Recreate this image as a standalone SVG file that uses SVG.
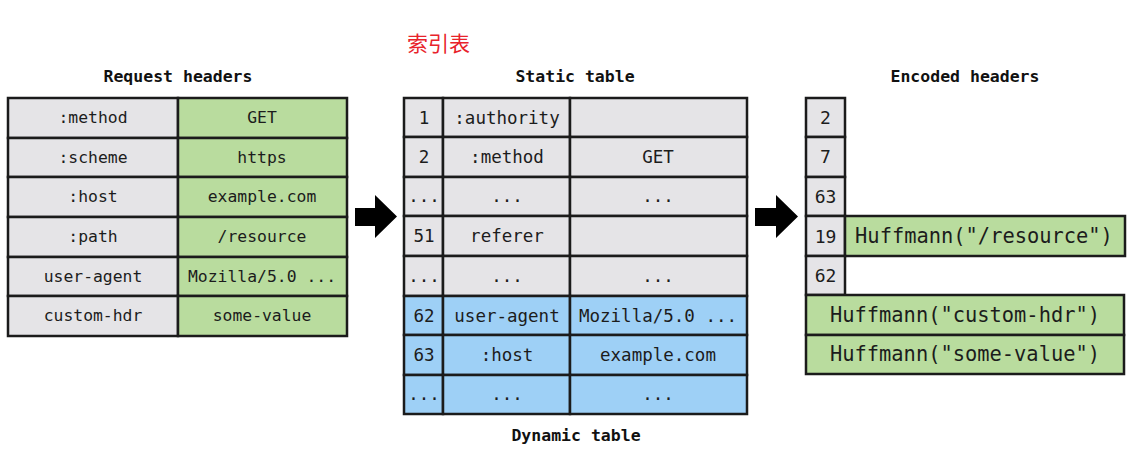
<svg xmlns="http://www.w3.org/2000/svg" width="1134" height="455" viewBox="0 0 1134 455">
<style>
.g{fill:#e5e4e7;stroke:#1b1b1b;stroke-width:2.5}
.n{fill:#b9dc9e;stroke:#1b1b1b;stroke-width:2.5}
.b{fill:#9ed0f6;stroke:#1b1b1b;stroke-width:2.5}
text{font-family:"DejaVu Sans Mono","Liberation Mono",monospace;fill:#1c1c1c;text-anchor:middle}
.t{font-weight:bold;font-size:16.5px;fill:#111}
.l{font-size:16.4px}
.m{font-size:17.5px}
.r{font-size:18px}
.h{font-size:20.4px}
.cn{font-family:"Noto Sans CJK SC",sans-serif;font-size:21px;fill:#e8232b;text-anchor:start}
.ar{fill:#000}
</style>
<text class="cn" x="407" y="51">索引表</text>
<text class="t" x="178" y="82">Request headers</text>
<text class="t" x="575" y="82">Static table</text>
<text class="t" x="965" y="82">Encoded headers</text>
<text class="t" x="576" y="441">Dynamic table</text>

<g id="request-headers">
<rect class="g" x="8" y="98" width="170" height="40"/><rect class="n" x="178" y="98" width="169" height="40"/>
<rect class="g" x="8" y="138" width="170" height="39"/><rect class="n" x="178" y="138" width="169" height="39"/>
<rect class="g" x="8" y="177" width="170" height="40"/><rect class="n" x="178" y="177" width="169" height="40"/>
<rect class="g" x="8" y="217" width="170" height="40"/><rect class="n" x="178" y="217" width="169" height="40"/>
<rect class="g" x="8" y="257" width="170" height="39"/><rect class="n" x="178" y="257" width="169" height="39"/>
<rect class="g" x="8" y="296" width="170" height="40"/><rect class="n" x="178" y="296" width="169" height="40"/>
<text class="l" x="93" y="123">:method</text><text class="l" x="262" y="123">GET</text>
<text class="l" x="93" y="163">:scheme</text><text class="l" x="262" y="163">https</text>
<text class="l" x="93" y="202">:host</text><text class="l" x="262" y="202">example.com</text>
<text class="l" x="93" y="242">:path</text><text class="l" x="262" y="242">/resource</text>
<text class="l" x="93" y="282">user-agent</text><text class="l" x="262" y="282">Mozilla/5.0 ...</text>
<text class="l" x="93" y="321">custom-hdr</text><text class="l" x="262" y="321">some-value</text>
</g>

<g id="static-table">
<rect class="g" x="404" y="98" width="39" height="39"/><rect class="g" x="443" y="98" width="127" height="39"/><rect class="g" x="570" y="98" width="177" height="39"/>
<rect class="g" x="404" y="137" width="39" height="40"/><rect class="g" x="443" y="137" width="127" height="40"/><rect class="g" x="570" y="137" width="177" height="40"/>
<rect class="g" x="404" y="177" width="39" height="39"/><rect class="g" x="443" y="177" width="127" height="39"/><rect class="g" x="570" y="177" width="177" height="39"/>
<rect class="g" x="404" y="216" width="39" height="40"/><rect class="g" x="443" y="216" width="127" height="40"/><rect class="g" x="570" y="216" width="177" height="40"/>
<rect class="g" x="404" y="256" width="39" height="40"/><rect class="g" x="443" y="256" width="127" height="40"/><rect class="g" x="570" y="256" width="177" height="40"/>
<text class="m" x="424" y="124">1</text><text class="m" x="507" y="124">:authority</text>
<text class="m" x="424" y="163">2</text><text class="m" x="507" y="163">:method</text><text class="m" x="658" y="163">GET</text>
<text class="m" x="424" y="202">...</text><text class="m" x="507" y="202">...</text><text class="m" x="658" y="202">...</text>
<text class="m" x="424" y="242">51</text><text class="m" x="507" y="242">referer</text>
<text class="m" x="424" y="282">...</text><text class="m" x="507" y="282">...</text><text class="m" x="658" y="282">...</text>
</g>

<g id="dynamic-table">
<rect class="b" x="404" y="296" width="39" height="39"/><rect class="b" x="443" y="296" width="127" height="39"/><rect class="b" x="570" y="296" width="177" height="39"/>
<rect class="b" x="404" y="335" width="39" height="40"/><rect class="b" x="443" y="335" width="127" height="40"/><rect class="b" x="570" y="335" width="177" height="40"/>
<rect class="b" x="404" y="375" width="39" height="39"/><rect class="b" x="443" y="375" width="127" height="39"/><rect class="b" x="570" y="375" width="177" height="39"/>
<text class="m" x="424" y="322">62</text><text class="m" x="507" y="322">user-agent</text><text class="m" x="658" y="322">Mozilla/5.0 ...</text>
<text class="m" x="424" y="361">63</text><text class="m" x="507" y="361">:host</text><text class="m" x="658" y="361">example.com</text>
<text class="m" x="424" y="400">...</text><text class="m" x="507" y="400">...</text><text class="m" x="658" y="400">...</text>
</g>

<g id="encoded-headers">
<rect class="g" x="806" y="98" width="39" height="39"/>
<rect class="g" x="806" y="137" width="39" height="40"/>
<rect class="g" x="806" y="177" width="39" height="39"/>
<rect class="g" x="806" y="216" width="39" height="40"/>
<rect class="n" x="845" y="216" width="280" height="40"/>
<rect class="g" x="806" y="256" width="39" height="39"/>
<rect class="n" x="806" y="295" width="318" height="40"/>
<rect class="n" x="806" y="335" width="318" height="39"/>
<text class="r" x="825.5" y="124">2</text>
<text class="r" x="825.5" y="163">7</text>
<text class="r" x="825.5" y="203">63</text>
<text class="r" x="825.5" y="243">19</text>
<text class="h" x="984" y="243">Huffmann("/resource")</text>
<text class="r" x="825.5" y="282">62</text>
<text class="h" x="965" y="322">Huffmann("custom-hdr")</text>
<text class="h" x="965" y="361">Huffmann("some-value")</text>
</g>

<g id="connectors">
<polygon class="ar" points="355,208 375,208 375,195 397,216.5 375,238 375,226 355,226"/>
<polygon class="ar" points="755,208 776,208 776,195 798,216.5 776,238 776,226 755,226"/>
</g>
</svg>
